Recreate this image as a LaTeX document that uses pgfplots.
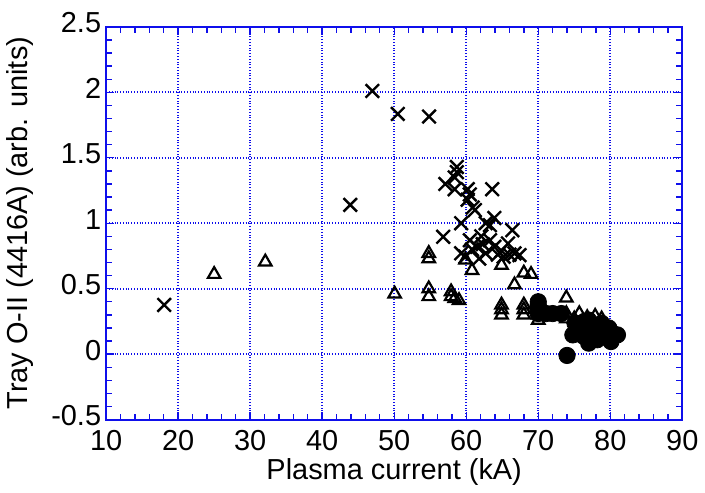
\documentclass[border={0pt 0pt 0pt 3pt}]{standalone}
\usepackage{fontspec}
\setmainfont{Liberation Sans}
\usepackage{pgfplots}
\pgfplotsset{compat=1.18}

\definecolor{frameblue}{RGB}{15,15,235}

\begin{document}
\begin{tikzpicture}
\begin{axis}[
    scale only axis, width=289pt, height=197pt,
    xmin=10, xmax=90, ymin=-0.5, ymax=2.5,
    xtick={10,20,...,90}, ytick={-0.5,0,0.5,1,1.5,2,2.5},
    minor x tick num=4, minor y tick num=4,
    yticklabels={-0.5,0,0.5,1,1.5,2,2.5},
    /pgf/number format/assume math mode=true,
    tick label style={font=\fontsize{14.5}{16}\selectfont},
    label style={font=\fontsize{14.5}{16}\selectfont},
    xlabel={Plasma current (kA)}, ylabel={Tray O-II (4416A) (arb. units)},
    xlabel style={yshift=3pt}, ylabel style={yshift=2pt},
    xticklabel style={yshift=-2pt}, yticklabel style={xshift=1pt, yshift=2pt},
    axis line style={frameblue, line width=1.1pt},
    tick style={frameblue, line width=0.7pt},
    major tick length=4pt, minor tick length=3pt,
    tick align=inside,
    grid=major, grid style={frameblue, densely dotted, line width=1pt},
]
% crosses
\addplot[only marks, mark=x, mark size=4.8pt, line width=1.2pt, black] coordinates {
(18.06,0.376) (46.96,2.01) (50.5,1.835) (54.84,1.815) (43.9,1.14) (56.8,0.896)
(58.7,1.43) (58.7,1.39) (58.4,1.35) (57.1,1.30) (58.4,1.26) (60.2,1.26) (60.5,1.22)
(60.2,1.18) (60.9,1.12) (61.2,1.10) (63.6,1.26) (59.3,1.0) (62.7,1.0) (63.9,1.04)
(63.3,0.985) (66.4,0.947) (59.3,0.77) (60.5,0.87) (61.5,0.82) (62.1,0.90) (62.7,0.77)
(63.3,0.87) (63.9,0.82) (64.9,0.79) (65.8,0.845) (65.2,0.744) (66.7,0.77) (67.4,0.756)
(59.9,0.744) (61.8,0.73) (60.8,0.80) (62.3,0.84) (64.4,0.76) (66.0,0.76)
};
% open triangles
\addplot[only marks, mark=triangle, mark size=3.6pt, line width=1.1pt, black] coordinates {
(25.0,0.61) (32.1,0.705) (50.06,0.46) (54.8,0.77) (54.8,0.73) (54.8,0.50) (54.8,0.44)
(57.9,0.477) (57.9,0.44) (58.4,0.426) (59.0,0.41) (59.9,0.72) (60.8,0.64) (64.9,0.68)
(66.7,0.53) (68.0,0.62) (69.0,0.61) (64.9,0.376) (64.9,0.34) (64.9,0.30) (68.0,0.376)
(68.0,0.34) (68.0,0.30) (70.0,0.26) (73.9,0.43) (73.9,0.31) (73.9,0.27) (75.7,0.31)
(77.9,0.29) (78.8,0.27) (75.0,0.27) (70.0,0.30) (76.8,0.28)
};
% filled circles
\addplot[only marks, mark=*, mark size=4.1pt, black] coordinates {
(70.0,0.40) (70.0,0.376) (70.0,0.34) (70.0,0.31) (72.0,0.31) (73.2,0.31) (71.1,0.31)
(74.0,-0.01) (74.8,0.147) (75.7,0.20) (77.0,0.16) (77.0,0.084) (78.2,0.11) (77.9,0.185)
(79.1,0.16) (80.1,0.17) (80.1,0.096) (81.0,0.147) (76.4,0.25) (77.0,0.26) (75.1,0.236)
(78.8,0.236) (79.8,0.20) (76.2,0.14) (78.0,0.12)
};
\end{axis}
\end{tikzpicture}
\end{document}
